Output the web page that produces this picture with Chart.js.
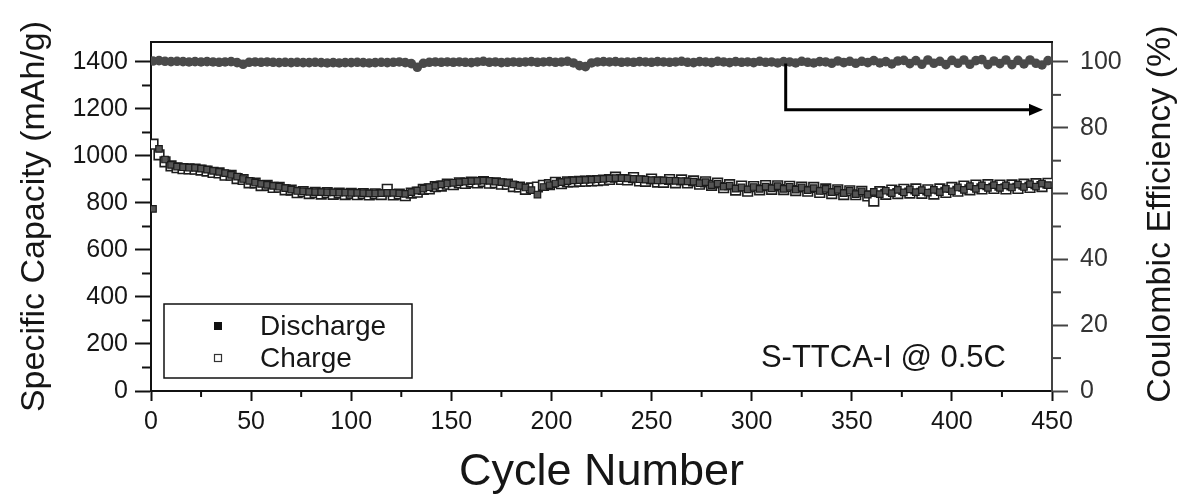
<!DOCTYPE html>
<html><head><meta charset="utf-8">
<script src="https://cdn.jsdelivr.net/npm/chart.js@4.4.1/dist/chart.umd.min.js"></script>
<style>html,body{margin:0;padding:0;background:#fff;}canvas{display:block;}</style>
</head><body>
<canvas id="c" width="1186" height="502"></canvas>
<script>
const cycles = [
1,4,7,10,13,16,19,22,25,28,
31,34,37,40,43,46,49,52,55,58,
61,64,67,70,73,76,79,82,85,88,
91,94,97,100,103,106,109,112,115,118,
121,124,127,130,133,136,139,142,145,148,
151,154,157,160,163,166,169,172,175,178,
181,184,187,190,193,196,199,202,205,208,
211,214,217,220,223,226,229,232,235,238,
241,244,247,250,253,256,259,262,265,268,
271,274,277,280,283,286,289,292,295,298,
301,304,307,310,313,316,319,322,325,328,
331,334,337,340,343,346,349,352,355,358,
361,364,367,370,373,376,379,382,385,388,
391,394,397,400,403,406,409,412,415,418,
421,424,427,430,433,436,439,442,445,448];

const dischargeCapacity = [
775,1030,985,962,955,952,950,949,946,942,
937,932,927,920,912,902,894,887,881,877,
873,869,863,857,851,849,847,846,846,845,
845,844,844,843,843,842,841,841,842,843,
843,841,839,846,853,861,867,873,879,883,
886,889,891,893,894,895,894,891,889,885,
879,873,866,855,836,868,876,883,889,893,
896,897,898,899,901,903,905,906,906,905,
903,901,899,897,896,896,895,894,893,892,
891,884,889,876,882,870,874,861,866,858,
868,860,870,862,872,860,869,857,866,855,
863,851,860,846,856,842,852,838,849,836,
847,838,852,842,856,845,858,846,855,844,
856,846,860,850,866,856,872,860,875,864,
876,864,875,866,878,868,880,870,882,876];

const chargeCapacity = [
1050,1005,975,958,950,946,945,944,940,936,
930,928,918,918,904,900,886,885,874,875,
866,867,856,855,844,848,840,845,838,844,
837,842,836,841,835,840,834,839,836,858,
834,838,831,842,846,858,860,870,872,880,
878,886,883,889,885,891,884,886,880,880,
870,868,858,864,868,875,878,888,882,890,
890,892,893,894,895,897,900,910,900,898,
908,894,892,902,889,888,900,886,898,885,
894,880,890,875,885,865,878,855,872,850,
870,856,874,858,873,857,871,853,868,850,
866,845,860,840,856,836,852,835,850,830,
808,848,837,855,840,858,842,860,841,856,
838,860,845,866,850,872,856,876,860,878,
862,876,860,877,862,880,866,882,870,884];

const coulombicEfficiency = [
100.3,100.4,100.2,100.1,100.2,100.1,100.0,100.1,100.0,100.1,
100.0,99.9,100.0,100.1,99.8,99.3,99.9,100.0,99.9,100.0,
99.9,99.8,99.9,99.8,99.9,99.8,99.8,99.9,99.8,99.7,
99.8,99.7,99.8,99.8,99.9,99.8,99.7,99.8,99.9,99.8,
99.9,100.0,99.8,99.5,98.4,99.6,99.9,100.0,99.9,100.0,
99.9,100.0,99.9,99.8,100.0,100.2,99.9,100.0,99.8,99.9,
100.0,99.9,100.0,100.1,99.9,100.0,100.1,99.9,100.0,100.2,
99.7,98.9,98.6,99.7,100.0,100.1,100.0,100.1,99.9,100.0,
99.9,100.1,100.0,99.9,100.1,100.0,99.9,100.0,100.2,99.9,
99.8,100.1,100.0,99.8,100.2,100.0,99.8,100.1,99.9,100.0,
99.8,100.2,99.9,100.0,99.7,100.1,100.0,99.7,100.2,99.9,
99.7,100.1,100.0,99.6,100.3,99.8,100.2,99.6,100.2,99.8,
100.4,99.7,100.1,99.4,100.3,100.5,99.5,100.4,99.3,100.6,
99.6,100.2,99.2,100.5,99.6,100.6,99.3,100.4,100.7,99.2,
100.3,99.5,100.6,99.2,100.5,99.4,100.6,99.6,99.1,100.4];

const xTicks = [0,50,100,150,200,250,300,350,400,450];
const xMinorTicks = [25,75,125,175,225,275,325,375,425];
const capTicks = [0,200,400,600,800,1000,1200,1400];
const capMinorTicks = [100,300,500,700,900,1100,1300];
const ceTicks = [0,20,40,60,80,100];
const ceMinorTicks = [10,30,50,70,90];
const legendLabels = ['Discharge','Charge'];
const sampleLabel = 'S-TTCA-I @ 0.5C';
const xTitle = 'Cycle Number';
const yTitle = 'Specific Capacity (mAh/g)';
const y2Title = 'Coulombic Efficiency (%)';

const FONT = "'Liberation Sans', Arial, Helvetica, sans-serif";
const INK = '#161616';

const toPts = arr => arr.map((v, i) => ({x: cycles[i], y: v}));

const decor = {
  id: 'decor',
  afterDraw(chart) {
    const {ctx, chartArea: ca, scales} = chart;
    const x = scales.x, y = scales.y, y2 = scales.y2;
    ctx.save();
    // top frame
    ctx.strokeStyle = '#111'; ctx.lineWidth = 2;
    ctx.beginPath(); ctx.moveTo(ca.left - 1, ca.top); ctx.lineTo(ca.right + 1, ca.top); ctx.stroke();
    // minor ticks
    xMinorTicks.forEach(v => { const px = x.getPixelForValue(v); ctx.beginPath(); ctx.moveTo(px, ca.bottom); ctx.lineTo(px, ca.bottom + 6); ctx.stroke(); });
    capMinorTicks.forEach(v => { const py = y.getPixelForValue(v); ctx.beginPath(); ctx.moveTo(ca.left, py); ctx.lineTo(ca.left - 9, py); ctx.stroke(); });
    ctx.strokeStyle = '#444';
    ceMinorTicks.forEach(v => { const py = y2.getPixelForValue(v); ctx.beginPath(); ctx.moveTo(ca.right, py); ctx.lineTo(ca.right + 9, py); ctx.stroke(); });
    // arrow pointing to right axis
    const ax = x.getPixelForValue(317), ayTop = y2.getPixelForValue(99.5), ayBot = y2.getPixelForValue(85.5), tip = x.getPixelForValue(445.5);
    ctx.strokeStyle = '#000'; ctx.lineWidth = 3; ctx.lineJoin = 'miter';
    ctx.beginPath(); ctx.moveTo(ax, ayTop); ctx.lineTo(ax, ayBot); ctx.lineTo(tip - 10, ayBot); ctx.stroke();
    ctx.fillStyle = '#000';
    ctx.beginPath(); ctx.moveTo(tip, ayBot); ctx.lineTo(tip - 14, ayBot - 6); ctx.lineTo(tip - 14, ayBot + 6); ctx.closePath(); ctx.fill();
    // sample label
    ctx.font = `31px ${FONT}`; ctx.fillStyle = INK; ctx.textAlign = 'right'; ctx.textBaseline = 'alphabetic';
    ctx.fillText(sampleLabel, x.getPixelForValue(427), y.getPixelForValue(104));
    // legend
    const lx = ca.left + 13, ly = ca.top + 262, lw = 248, lh = 74;
    ctx.strokeStyle = '#111'; ctx.lineWidth = 1.5;
    ctx.strokeRect(lx, ly, lw, lh);
    const mx = ca.left + 67;
    ctx.fillStyle = '#111';
    ctx.fillRect(mx - 4, ly + 22 - 4, 8, 8);
    ctx.fillStyle = '#fff'; ctx.strokeStyle = '#333'; ctx.lineWidth = 1.2;
    ctx.fillRect(mx - 3.5, ly + 54 - 3.5, 7, 7); ctx.strokeRect(mx - 3.5, ly + 54 - 3.5, 7, 7);
    ctx.font = `28px ${FONT}`; ctx.fillStyle = INK; ctx.textAlign = 'left'; ctx.textBaseline = 'middle';
    ctx.fillText(legendLabels[0], ca.left + 109, ly + 23);
    ctx.fillText(legendLabels[1], ca.left + 109, ly + 55);
    // right axis title (reads bottom-to-top)
    ctx.save();
    ctx.translate(1170, 214);
    ctx.rotate(-Math.PI / 2);
    ctx.font = `34px ${FONT}`; ctx.fillStyle = INK; ctx.textAlign = 'center'; ctx.textBaseline = 'alphabetic';
    ctx.fillText(y2Title, 0, 0);
    ctx.restore();
    ctx.restore();
  }
};

const tickFont = {family: FONT, size: 25};

new Chart(document.getElementById('c'), {
  type: 'scatter',
  data: {
    datasets: [
      {label: 'Discharge', data: toPts(dischargeCapacity), yAxisID: 'y', order: 0,
       pointStyle: 'rect', pointRadius: 4.6, backgroundColor: '#555555', borderColor: '#1a1a1a', pointBorderWidth: 1.2},
      {label: 'Charge', data: toPts(chargeCapacity), yAxisID: 'y', order: 1,
       pointStyle: 'rect', pointRadius: 6.8, backgroundColor: '#ffffff', borderColor: '#1e1e1e', pointBorderWidth: 1.6},
      {label: 'Coulombic Efficiency', data: toPts(coulombicEfficiency), yAxisID: 'y2', order: 2,
       pointStyle: 'circle', pointRadius: 4.8, backgroundColor: '#4a4a4a', borderColor: '#4a4a4a', pointBorderWidth: 0}
    ]
  },
  options: {
    responsive: false,
    devicePixelRatio: 1,
    animation: false,
    events: [],
    layout: {padding: {top: 42, left: 0, right: 0, bottom: 0}},
    plugins: {legend: {display: false}, tooltip: {enabled: false}},
    scales: {
      x: {
        type: 'linear', position: 'bottom', min: 0, max: 450,
        afterBuildTicks: s => { s.ticks = xTicks.map(v => ({value: v})); },
        afterFit: s => { s.height = 111; },
        ticks: {font: tickFont, color: INK, padding: 6, maxRotation: 0, callback: v => String(v)},
        grid: {drawOnChartArea: false, drawTicks: true, tickLength: 10, tickWidth: 2, tickColor: '#111', color: '#111'},
        border: {display: true, color: '#111', width: 2},
        title: {display: true, text: xTitle, color: INK, font: {family: FONT, size: 45}, padding: {top: 0, bottom: 2}}
      },
      y: {
        type: 'linear', position: 'left', min: 0, max: 1485,
        afterBuildTicks: s => { s.ticks = capTicks.map(v => ({value: v})); },
        afterFit: s => { s.width = 151; },
        ticks: {font: tickFont, color: INK, padding: 7, callback: v => String(v)},
        grid: {drawOnChartArea: false, drawTicks: true, tickLength: 16, tickWidth: 2, tickColor: '#111', color: '#111'},
        border: {display: true, color: '#111', width: 2},
        title: {display: true, text: yTitle, color: INK, font: {family: FONT, size: 34}, padding: {top: 14, bottom: 0}}
      },
      y2: {
        type: 'linear', position: 'right', min: 0, max: 106.07,
        afterBuildTicks: s => { s.ticks = ceTicks.map(v => ({value: v})); },
        afterFit: s => { s.width = 134; },
        ticks: {font: tickFont, color: '#333', padding: 12, callback: v => String(v)},
        grid: {drawOnChartArea: false, drawTicks: true, tickLength: 16, tickWidth: 2, tickColor: '#444', color: '#444'},
        border: {display: true, color: '#444', width: 2},
        title: {display: false}
      }
    }
  },
  plugins: [decor]
});
</script>
</body></html>
